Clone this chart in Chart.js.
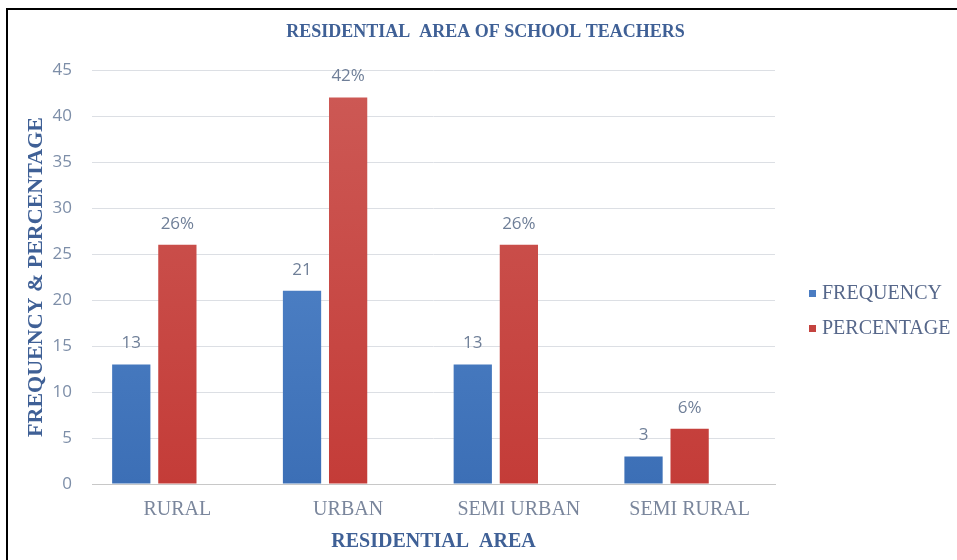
<!DOCTYPE html>
<html>
<head>
<meta charset="utf-8">
<script src="https://cdn.jsdelivr.net/npm/chart.js@4/dist/chart.umd.min.js"></script>
<style>
  html, body { margin: 0; padding: 0; background: #fff; }
  #wrap { position: relative; width: 957px; height: 560px; }
  #frame { position: absolute; left: 6px; top: 8px; right: -10px; bottom: -10px;
           border-left: 2px solid #000; border-top: 2px solid #000; pointer-events: none; }
</style>
</head>
<body>
<div id="wrap">
  <canvas id="myChart" width="957" height="560"></canvas>
  <div id="frame"></div>
</div>
<script>
var categories = ["RURAL", "URBAN", "SEMI URBAN", "SEMI RURAL"];
var frequency = [13, 21, 13, 3];
var percentage = [26, 42, 26, 6];
var emptySeries = [null, null, null, null]; // blank third column, as in the source sheet
var yTicks = [0, 5, 10, 15, 20, 25, 30, 35, 40, 45];
var seriesNames = ["FREQUENCY", "PERCENTAGE"];
var chartTitle = "RESIDENTIAL  AREA OF SCHOOL TEACHERS";

var serif = "'Liberation Serif', 'DejaVu Serif', serif";
var sans = "'Open Sans', 'Liberation Sans', sans-serif";
Chart.defaults.font.family = serif;

var blue = '#4a7cc2', red = '#c4433f';

// vertical gradient fill for the bars
function barFill(top, bottom) {
    return function (c) {
        var area = c.chart.chartArea;
        if (!area) return bottom;
        var g = c.chart.ctx.createLinearGradient(0, area.top, 0, area.bottom);
        g.addColorStop(0, top);
        g.addColorStop(1, bottom);
        return g;
    };
}

// value labels above each bar
var barLabels = {
    id: 'barLabels',
    afterDatasetsDraw: function (chart) {
        var ctx = chart.ctx;
        ctx.save();
        ctx.font = "17px " + sans;
        ctx.fillStyle = "#6f7f98";
        ctx.textAlign = "center";
        ctx.textBaseline = "middle";
        chart.data.datasets.forEach(function (ds, i) {
            if (!ds.label) return;
            chart.getDatasetMeta(i).data.forEach(function (bar, j) {
                var txt = ds.data[j] + (i === 1 ? "%" : "");
                ctx.fillText(txt, bar.x, bar.y - 21);
            });
        });
        ctx.restore();
    }
};

// title across the whole canvas + legend on the right
var sideParts = {
    id: 'sideParts',
    afterDraw: function (chart) {
        var ctx = chart.ctx, area = chart.chartArea;
        ctx.save();
        ctx.textBaseline = "middle";
        ctx.textAlign = "center";
        ctx.font = "bold 18px " + serif;
        ctx.fillStyle = "#3f6096";
        ctx.fillText(chartTitle, chart.width / 2 + 7, 32);

        ctx.textAlign = "left";
        ctx.font = "20px " + serif;
        var x = area.right + 34;
        var y0 = (area.top + area.bottom) / 2 + 17;
        chart.data.datasets.forEach(function (ds, i) {
            if (!ds.label) return;
            var y = y0 + i * 35;
            ctx.fillStyle = ds.legendColor;
            ctx.fillRect(x, y - 4, 7, 7);
            ctx.fillStyle = "#56678a";
            ctx.fillText(ds.label, x + 13, y);
        });
        ctx.restore();
    }
};

var ctx = document.getElementById("myChart").getContext('2d');

var myChart = new Chart(ctx, {
    type: 'bar',
    data: {
        labels: categories,
        datasets: [{
            label: seriesNames[0],
            data: frequency,
            legendColor: blue,
            backgroundColor: barFill('#5a8dd0', '#3c6fb6'),
            borderWidth: 0,
            barPercentage: 0.83,
            categoryPercentage: 0.81
        }, {
            label: seriesNames[1],
            data: percentage,
            legendColor: red,
            backgroundColor: barFill('#cd5a56', '#c43c38'),
            borderWidth: 0,
            barPercentage: 0.83,
            categoryPercentage: 0.81
        }, {
            label: "",
            data: emptySeries,
            backgroundColor: 'rgba(0,0,0,0)',
            borderWidth: 0,
            barPercentage: 0.83,
            categoryPercentage: 0.81
        }]
    },
    options: {
        responsive: false,
        animation: false,
        layout: { padding: { left: 23, right: 182, top: 70, bottom: 4 } },
        plugins: {
            title: { display: false },
            legend: { display: false },
            tooltip: { enabled: false }
        },
        scales: {
            x: {
                afterFit: function (axis) { axis.height = 72; },
                grid: { display: false, drawTicks: false },
                border: { color: "#c8c8c8", width: 1 },
                ticks: { color: "#7a869c", font: { family: serif, size: 20 }, padding: 14 },
                title: {
                    display: true,
                    text: "RESIDENTIAL  AREA",
                    color: "#3f6096",
                    font: { family: serif, size: 20, weight: 'bold' },
                    padding: { top: 2, bottom: 2 }
                }
            },
            y: {
                min: 0,
                max: 45,
                afterFit: function (axis) { axis.width = 69; },
                afterBuildTicks: function (axis) {
                    axis.ticks = yTicks.map(function (v) { return { value: v }; });
                },
                grid: { color: "#dcdfe4", drawTicks: false },
                border: { display: false },
                ticks: { color: "#7d8ea8", font: { family: sans, size: 17 }, padding: 20 },
                title: {
                    display: true,
                    text: "FREQUENCY & PERCENTAGE",
                    color: "#3f6096",
                    font: { family: serif, size: 22, weight: 'bold' },
                    padding: { top: 0, bottom: 4 }
                }
            }
        }
    },
    plugins: [barLabels, sideParts]
});
</script>
</body>
</html>
